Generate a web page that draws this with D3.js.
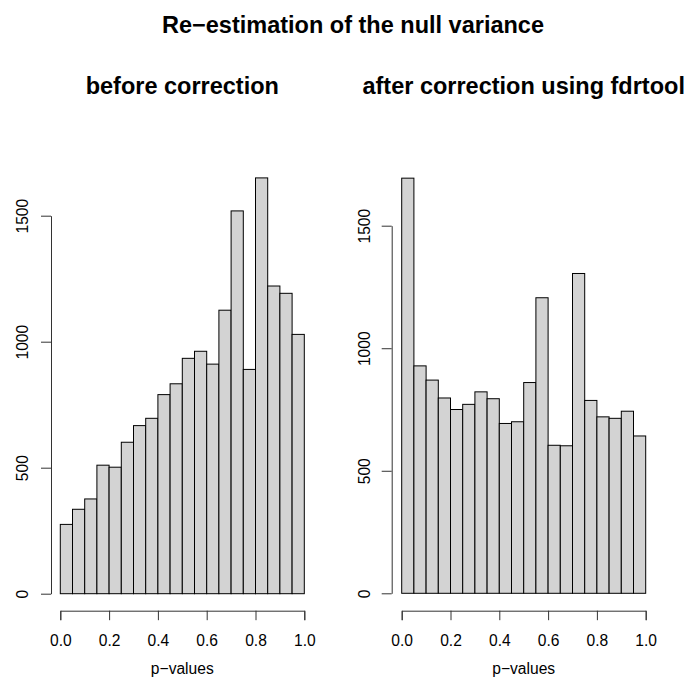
<!DOCTYPE html>
<html>
<head>
<meta charset="utf-8">
<script src="https://cdn.jsdelivr.net/npm/d3@7"></script>
<style>
  body { margin: 0; background: #fff; }
  text { font-family: "Liberation Sans", Arial, Helvetica, sans-serif; }
</style>
</head>
<body>
<div id="chart"></div>
<script>
var width = 693, height = 686;

// histogram bins: 20 bins of width 0.05 on [0, 1]
var binEdges = d3.range(0, 21).map(function(i){ return i / 20; });
var beforeCounts = [275, 335, 376, 510, 502, 601, 667, 696, 790, 833,
                    934, 962, 911, 1125, 1519, 890, 1650, 1221, 1192, 1029];
var afterCounts = [1694, 928, 870, 797, 750, 771, 822, 794, 693, 700,
                   860, 1206, 604, 602, 1305, 787, 720, 714, 743, 642];
var xTicks = [0, 0.2, 0.4, 0.6, 0.8, 1.0];
var yTicks = [0, 500, 1000, 1500];

var mainTitle = "Re\u2212estimation of the null variance";
var panelTitles = ["before correction", "after correction using fdrtool"];
var xLabel = "p\u2212values";

var svg = d3.select("#chart")
            .append("svg")
            .attr("width", width)
            .attr("height", height);

svg.append("text")
   .attr("x", 353)
   .attr("y", 33)
   .attr("text-anchor", "middle")
   .attr("font-weight", "bold")
   .attr("font-size", 23.5)
   .text(mainTitle);

var panels = [
  {counts: beforeCounts, title: panelTitles[0], x0: 60.3, y0: 593.7, y1500: 215.7, yAxisX: 51, labX: 22.5, center: 182.3},
  {counts: afterCounts,  title: panelTitles[1], x0: 401.7, y0: 593.3, y1500: 225.7, yAxisX: 391.7, labX: 364, center: 523.7}
];

panels.forEach(function(p){
  var x = d3.scaleLinear().domain([0, 1]).range([p.x0, p.x0 + 244]);
  var y = d3.scaleLinear().domain([0, 1500]).range([p.y0, p.y1500]);

  var g = svg.append("g");

  g.append("text")
   .attr("x", p.center)
   .attr("y", 94)
   .attr("text-anchor", "middle")
   .attr("font-weight", "bold")
   .attr("font-size", 23.5)
   .text(p.title);

  g.selectAll("rect")
   .data(p.counts)
   .enter()
   .append("rect")
   .attr("x", function(d, i){ return x(binEdges[i]); })
   .attr("y", function(d){ return y(d); })
   .attr("width", function(d, i){ return x(binEdges[i + 1]) - x(binEdges[i]); })
   .attr("height", function(d){ return y(0) - y(d); })
   .attr("fill", "#d3d3d3")
   .attr("stroke", "#000")
   .attr("stroke-width", 1);

  // x axis (R style, detached below the plot)
  var xAxis = g.append("g")
     .attr("transform", "translate(0,610.7)")
     .call(d3.axisBottom(x).tickValues(xTicks).tickSize(9.5).tickPadding(15)
            .tickFormat(d3.format(".1f")));
  xAxis.select(".domain").attr("stroke", "#333");
  xAxis.selectAll(".tick line").attr("stroke", "#333");
  xAxis.selectAll("text")
       .attr("font-size", 15.6)
       .attr("fill", "#000")
       .attr("font-family", "Liberation Sans, Arial, sans-serif");

  // y axis with rotated labels
  var yAxis = g.append("g")
     .attr("transform", "translate(" + p.yAxisX + ",0)")
     .call(d3.axisLeft(y).tickValues(yTicks).tickSize(10).tickSizeOuter(0).tickFormat(d3.format("d")));
  yAxis.select(".domain").attr("stroke", "#333");
  yAxis.selectAll(".tick line").attr("stroke", "#333");
  yAxis.selectAll(".tick text")
       .attr("font-size", 15.6)
       .attr("fill", "#000")
       .attr("font-family", "Liberation Sans, Arial, sans-serif")
       .attr("x", null)
       .attr("dy", null)
       .attr("text-anchor", "middle")
       .attr("transform", "translate(" + (p.labX - p.yAxisX + 5.5) + ",0) rotate(-90)");

  g.append("text")
   .attr("x", p.center)
   .attr("y", 674)
   .attr("text-anchor", "middle")
   .attr("font-size", 15.6)
   .text(xLabel);
});
</script>
</body>
</html>
